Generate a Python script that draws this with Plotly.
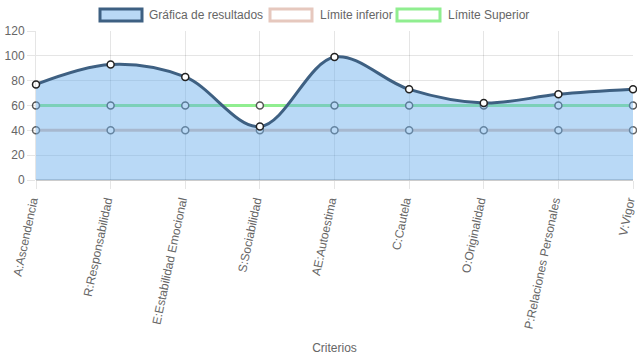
import plotly.graph_objects as go

categories = ["A:Ascendencia", "R:Responsabilidad", "E:Estabilidad Emocional",
              "S:Sociabilidad", "AE:Autoestima", "C:Cautela", "O:Originalidad",
              "P:Relaciones Personales", "V:Vigor"]
resultados = [77, 93, 83, 43, 99, 73, 62, 69, 73]
limite_inferior = [40, 40, 40, 40, 40, 40, 40, 40, 40]
limite_superior = [60, 60, 60, 60, 60, 60, 60, 60, 60]
series_names = ["Gráfica de resultados", "Límite inferior", "Límite Superior"]
y_ticks = [0, 20, 40, 60, 80, 100, 120]

FONT = "Arial, Liberation Sans, sans-serif"
GRID = "rgba(0,0,0,0.1)"

fig = go.Figure()

# limit lines first so the semi-transparent area covers them
fig.add_trace(go.Scatter(
    x=categories, y=limite_inferior, name=series_names[1], mode="lines+markers",
    line=dict(color="rgb(222,196,184)", width=3),
    marker=dict(size=7, color="white", line=dict(color="#666", width=1.5)),
    cliponaxis=False, showlegend=False))
fig.add_trace(go.Scatter(
    x=categories, y=limite_superior, name=series_names[2], mode="lines+markers",
    line=dict(color="rgb(144,238,144)", width=3),
    marker=dict(size=7, color="white", line=dict(color="#555", width=1.5)),
    cliponaxis=False, showlegend=False))
fig.add_trace(go.Scatter(
    x=categories, y=resultados, name=series_names[0], mode="lines+markers",
    line=dict(color="rgb(62,96,130)", width=3, shape="spline", smoothing=1.0),
    fill="tozeroy", fillcolor="rgba(100,170,235,0.45)",
    marker=dict(size=7, color="white", line=dict(color="#222", width=1.5)),
    cliponaxis=False, showlegend=False))

# Chart.js style legend (boxes + labels)
legend_items = [
    (series_names[0], "rgba(100,170,235,0.45)", "rgb(62,96,130)", 100, 142, 147),
    (series_names[1], "rgba(255,255,255,0)", "rgb(230,200,190)", 270, 312, 318),
    (series_names[2], "rgba(255,255,255,0)", "rgb(144,238,144)", 397, 440, 446),
]
shapes = []
annotations = []
for name, fc, lc, x0, x1, tx in legend_items:
    shapes.append(dict(type="rect", xref="paper", yref="paper",
                       x0=(x0 - 36) / 597, x1=(x1 - 36) / 597,
                       y0=(180 - 21) / 149, y1=(180 - 9) / 149,
                       fillcolor=fc, line=dict(color=lc, width=3), layer="above"))
    annotations.append(dict(text=name, xref="paper", yref="paper",
                            x=(tx - 36) / 597, y=(180 - 15) / 149,
                            xanchor="left", yanchor="middle", showarrow=False,
                            font=dict(family=FONT, size=12, color="#666")))

fig.update_layout(
    width=637, height=359,
    margin=dict(l=36, r=4, t=31, b=179),
    paper_bgcolor="white", plot_bgcolor="white",
    font=dict(family=FONT, size=12, color="#666"),
    shapes=shapes, annotations=annotations,
    showlegend=False,
)
fig.update_xaxes(
    type="category", range=[0, len(categories) - 1], automargin=False,
    tickangle=-78, ticklabelshift=-4, showgrid=True, gridcolor=GRID, gridwidth=1,
    ticks="outside", ticklen=8, tickcolor=GRID,
    showline=False, zeroline=False,
    title=dict(text="Criterios", font=dict(family=FONT, size=12, color="#666"), standoff=14),
    tickfont=dict(family=FONT, size=12, color="#666"),
)
fig.update_yaxes(
    range=[0, 120], tickvals=y_ticks, automargin=False,
    showgrid=True, gridcolor=GRID, gridwidth=1,
    ticks="outside", ticklen=8, tickcolor=GRID,
    zeroline=True, zerolinecolor="rgba(0,0,0,0.2)", zerolinewidth=2,
    showline=True, linecolor=GRID, linewidth=1,
    tickfont=dict(family=FONT, size=12, color="#666"),
)

fig.write_html(
    "out.html",
    config={"displayModeBar": False},
    post_script="document.body.style.margin='0';document.body.style.overflow='hidden';",
)
